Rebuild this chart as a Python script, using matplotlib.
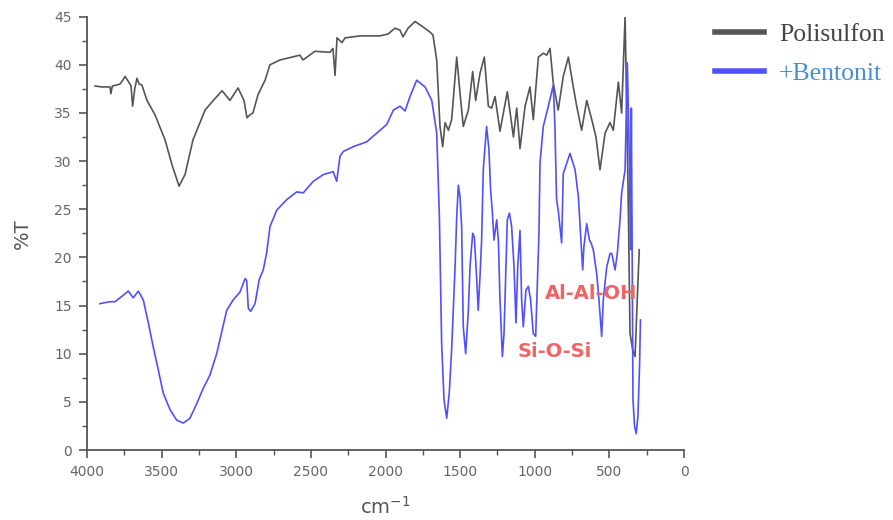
import matplotlib
matplotlib.use("Agg")
import matplotlib.pyplot as plt
from matplotlib.ticker import MultipleLocator

# ---- data ----
wn_ps = [3946, 3900, 3846, 3840, 3830, 3800, 3779, 3760, 3745, 3720, 3705, 3694,
         3680, 3665, 3650, 3632, 3598, 3544, 3477, 3430, 3383, 3343, 3290, 3209,
         3142, 3095, 3042, 2988, 2948, 2928, 2908, 2888, 2854, 2807, 2774, 2707,
         2573, 2553, 2473, 2372, 2352, 2338, 2325, 2292, 2271, 2171, 2037, 1983,
         1936, 1903, 1883, 1849, 1802, 1755, 1702, 1682, 1657, 1635, 1617, 1601,
         1579, 1557, 1523, 1501, 1479, 1445, 1416, 1396, 1367, 1338, 1311, 1289,
         1266, 1233, 1184, 1143, 1121, 1099, 1065, 1032, 1010, 976, 943, 920,
         898, 876, 843, 809, 775, 742, 719, 686, 652, 618, 590, 563, 529, 496,
         474, 440, 418, 395, 384, 373, 362, 345, 328, 315, 300]
t_ps = [37.8, 37.7, 37.7, 37.0, 37.8, 37.9, 38.0, 38.4, 38.8, 38.2, 37.8, 35.7,
        37.5, 38.6, 38.0, 37.9, 36.3, 34.8, 32.2, 29.6, 27.4, 28.6, 32.2, 35.3,
        36.5, 37.3, 36.3, 37.6, 36.3, 34.5, 34.8, 35.0, 36.9, 38.4, 40.0, 40.5,
        41.0, 40.5, 41.4, 41.3, 41.7, 38.9, 42.8, 42.3, 42.8, 43.0, 43.0, 43.2,
        43.8, 43.6, 42.9, 43.8, 44.5, 44.0, 43.4, 43.1, 40.5, 33.6, 31.5, 34.0,
        33.2, 34.3, 40.8, 37.1, 33.6, 35.3, 39.3, 36.3, 39.1, 40.8, 35.7, 35.5,
        36.7, 33.1, 37.2, 32.5, 35.5, 31.3, 35.7, 37.7, 34.3, 40.8, 41.2, 41.0,
        41.7, 38.1, 35.3, 38.8, 40.8, 37.7, 35.7, 33.2, 36.3, 34.3, 32.5, 29.1,
        32.9, 34.0, 33.2, 38.2, 35.0, 45.0, 35.3, 24.9, 12.1, 10.5, 9.7, 15.0, 20.8]

wn_bt = [3913, 3846, 3812, 3779, 3723, 3690, 3656, 3623, 3589, 3556, 3522, 3489,
         3444, 3399, 3355, 3310, 3265, 3221, 3176, 3131, 3064, 3020, 2975, 2941,
         2930, 2919, 2903, 2874, 2846, 2819, 2796, 2774, 2729, 2662, 2595, 2551,
         2484, 2417, 2350, 2327, 2305, 2283, 2216, 2126, 2059, 1992, 1947, 1903,
         1869, 1836, 1791, 1735, 1690, 1657, 1639, 1624, 1608, 1590, 1573, 1557,
         1546, 1534, 1523, 1512, 1501, 1490, 1479, 1463, 1445, 1434, 1416, 1405,
         1390, 1379, 1367, 1356, 1345, 1323, 1307, 1296, 1285, 1273, 1255, 1244,
         1233, 1217, 1206, 1193, 1184, 1170, 1155, 1139, 1126, 1114, 1099, 1088,
         1077, 1059, 1043, 1028, 1010, 994, 983, 972, 965, 943, 909, 876, 865,
         854, 843, 820, 809, 764, 730, 708, 679, 671, 652, 634, 623, 608, 585,
         570, 552, 541, 518, 496, 484, 462, 447, 429, 418, 395, 380, 366, 358,
         353, 347, 342, 331, 320, 309, 298, 292]
t_bt = [15.2, 15.4, 15.4, 15.8, 16.5, 15.8, 16.5, 15.6, 13.2, 10.7, 8.3, 5.9,
        4.2, 3.1, 2.8, 3.3, 4.8, 6.4, 7.8, 10.0, 14.5, 15.6, 16.4, 17.8,
        17.6, 14.7, 14.4, 15.2, 17.7, 18.7, 20.5, 23.2, 24.9, 26.0, 26.8, 26.7,
        27.9, 28.6, 28.9, 27.9, 30.5, 31.0, 31.5, 32.0, 32.9, 33.8, 35.3, 35.7,
        35.2, 36.7, 38.4, 37.7, 36.3, 32.9, 24.2, 11.1, 5.2, 3.3, 5.9, 10.4,
        14.5, 19.0, 24.2, 27.5, 26.3, 23.2, 12.8, 10.0, 14.5, 19.0, 22.5, 22.1,
        18.0, 14.5, 18.0, 21.8, 29.1, 33.6, 31.2, 27.0, 24.9, 21.8, 23.9, 21.8,
        15.6, 9.7, 12.1, 19.0, 23.9, 24.6, 23.2, 19.0, 13.2, 19.0, 22.8, 15.6,
        12.8, 16.6, 17.0, 15.6, 12.1, 11.8, 17.3, 22.5, 29.8, 33.6, 35.7, 37.9, 33.6,
        26.0, 24.9, 21.5, 28.7, 30.8, 29.1, 26.3, 18.7, 21.1, 23.5, 21.8, 21.5, 20.8, 18.3,
        15.6, 11.8, 15.6, 19.0, 20.4, 20.4, 18.7, 20.4, 23.9, 26.7, 29.1, 40.2, 30.0, 20.8,
        35.5, 18.0, 5.2, 2.4, 1.7, 3.5, 8.7, 13.5]

series_labels = ["Polisulfon", "+Bentonit"]
annotations = [("Al-Al-OH", 931, 16.3), ("Si-O-Si", 1112, 10.2)]

# ---- plot ----
fig = plt.figure(figsize=(8.93, 5.20), dpi=100)
ax = fig.add_axes([0.0974, 0.1346, 0.6686, 0.8334])

ax.plot(wn_ps, t_ps, color='#555555', lw=1.2, label=series_labels[0])
ax.plot(wn_bt, t_bt, color='#5050ff', lw=1.2, label=series_labels[1])

for txt, x, y in annotations:
    ax.text(x, y, txt, color='#f06464', fontsize=14, fontweight='bold',
            va='center', ha='left')

ax.set_xlim(4000, 0)
ax.set_ylim(0, 45)
ax.xaxis.set_major_locator(MultipleLocator(500))
ax.xaxis.set_minor_locator(MultipleLocator(250))
ax.yaxis.set_major_locator(MultipleLocator(5))
ax.yaxis.set_minor_locator(MultipleLocator(2.5))

for s in ['top', 'right']:
    ax.spines[s].set_visible(False)
for s in ['left', 'bottom']:
    ax.spines[s].set_color('#555555')
    ax.spines[s].set_linewidth(1.3)
ax.tick_params(which='major', length=6, width=1.2, color='#555555',
               labelsize=10, labelcolor='#666666', pad=5)
ax.tick_params(which='minor', length=3.5, width=1.0, color='#555555')

ax.set_ylabel('%T', fontsize=14, color='#555555', labelpad=16)
ax.set_xlabel('cm$^{-1}$', fontsize=14, color='#555555', labelpad=12)

leg = fig.legend(loc='upper left', bbox_to_anchor=(0.789, 0.975), frameon=False,
                 prop={'family': 'Liberation Serif', 'size': 18.5},
                 handlelength=1.9, handletextpad=0.6, labelspacing=0.62,
                 borderpad=0.4, borderaxespad=0)
for line in leg.get_lines():
    line.set_linewidth(4)
leg.get_texts()[0].set_color('#444444')
leg.get_texts()[1].set_color('#4a8fd0')

fig.savefig('out.png', dpi=100)
